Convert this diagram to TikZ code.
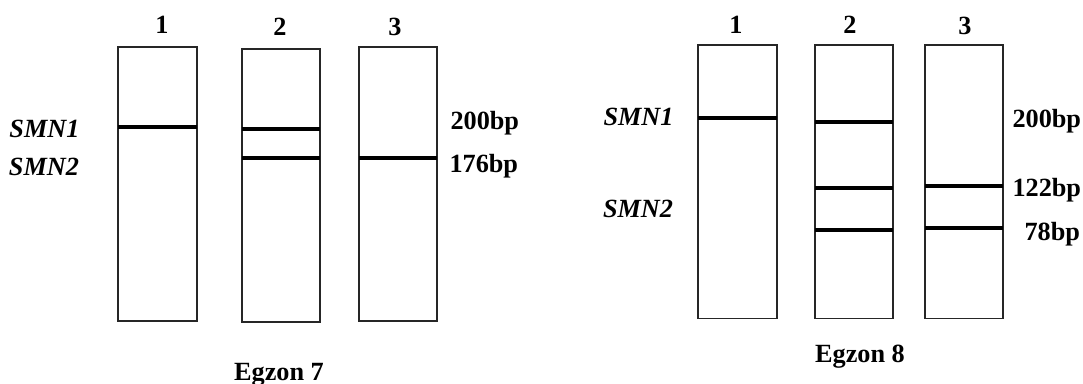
\documentclass[tikz,border=0pt]{standalone}
\usepackage{fontspec}
\setmainfont{Liberation Serif}
\usepackage{xcolor}
\usepackage{tikz}

\begin{document}
\begin{tikzpicture}[x = 0.4pt, y = -0.4pt,
	lane/.style = {draw = black!85, line width = 0.5pt},
	band/.style = {line width = 1.5pt},
	num/.style = {font = \fontsize{10.5}{12}\selectfont\bfseries, inner sep = 0pt},
	gene/.style = {font = \fontsize{10.5}{12}\selectfont\bfseries\itshape, inner sep = 0pt}]
	\useasboundingbox (0,0) rectangle (1083,383);
	% Egzon 7
	\draw[lane] (118,47) rectangle (197,321);
	\draw[lane] (242,49) rectangle (320,322);
	\draw[lane] (359,47) rectangle (437,321);
	\draw[band] (118,127) -- (197,127);
	\draw[band] (242,129) -- (320,129);
	\draw[band] (242,158) -- (320,158);
	\draw[band] (359,158) -- (437,158);
	\node[num] (l1) at (162,25) {1};
	\node[num] (l2) at (280,27) {2};
	\node[num] (l3) at (395,27) {3};
	\node[gene] (s1) at (44.5,129) {SMN1};
	\node[gene] (s2) at (44,167) {SMN2};
	\node[num, anchor = base west] (bp200) at (450,129) {200bp};
	\node[num, anchor = base west] (bp176) at (449,172) {176bp};
	\node[num, anchor = base] (ex7) at (279,380) {Egzon 7};
	% Egzon 8
	\draw[lane] (698,45) rectangle (777,318.5);
	\draw[lane] (815,45) rectangle (893,318.5);
	\draw[lane] (925,45) rectangle (1003,318.5);
	\draw[band] (698,118) -- (777,118);
	\draw[band] (815,122) -- (893,122);
	\draw[band] (815,188) -- (893,188);
	\draw[band] (815,230) -- (893,230);
	\draw[band] (925,186) -- (1003,186);
	\draw[band] (925,228) -- (1003,228);
	\node[num] (r1) at (736,25) {1};
	\node[num] (r2) at (850,25) {2};
	\node[num] (r3) at (965,26) {3};
	\node[gene] (t1) at (638.5,117) {SMN1};
	\node[gene] (t2) at (638,209) {SMN2};
	\node[num, anchor = base west] (bq200) at (1012,127) {200bp};
	\node[num, anchor = base west] (bq122) at (1012,196.5) {122bp};
	\node[num, anchor = base west] (bq78) at (1024,240) {78bp};
	\node[num, anchor = base] (ex8) at (860,362) {Egzon 8};
\end{tikzpicture}
\end{document}
